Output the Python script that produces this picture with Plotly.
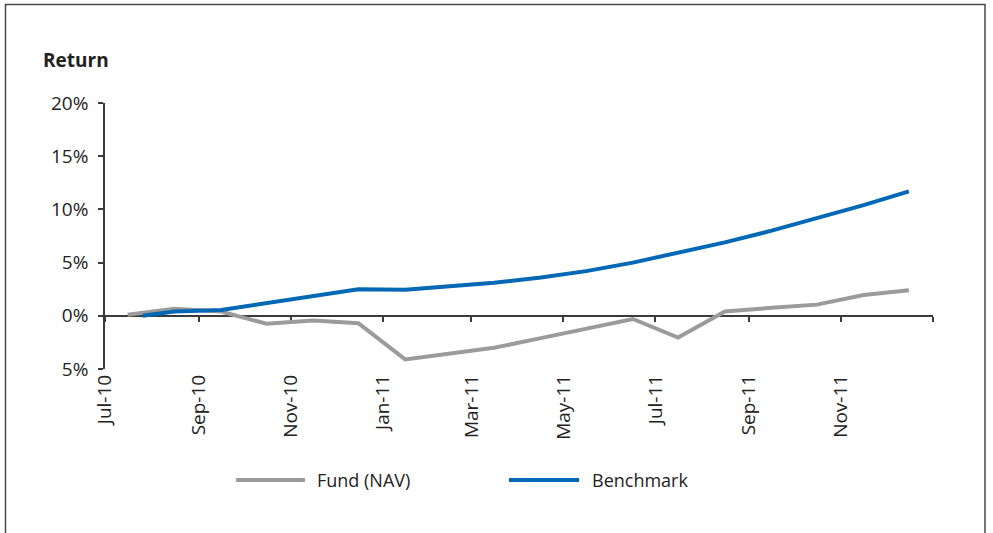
import plotly.graph_objects as go

# ---- data ----
fund_dates = ["2010-07-16", "2010-08-16", "2010-09-16", "2010-10-16", "2010-11-16", "2010-12-16",
              "2011-01-16", "2011-02-16", "2011-03-16", "2011-04-16", "2011-05-16", "2011-06-16",
              "2011-07-16", "2011-08-16", "2011-09-16", "2011-10-16", "2011-11-16", "2011-12-16"]
fund_values = [0.1, 0.65, 0.4, -0.75, -0.45, -0.7,
               -4.1, -3.55, -3.0, -2.1, -1.2, -0.3,
               -2.05, 0.4, 0.75, 1.05, 1.95, 2.4]

bench_dates = ["2010-07-26", "2010-08-16", "2010-09-16", "2010-10-16", "2010-11-16", "2010-12-16",
               "2011-01-16", "2011-02-16", "2011-03-16", "2011-04-16", "2011-05-16", "2011-06-16",
               "2011-07-16", "2011-08-16", "2011-09-16", "2011-10-16", "2011-11-16", "2011-12-16"]
bench_values = [0.0, 0.4, 0.55, 1.2, 1.85, 2.5,
                2.45, 2.75, 3.1, 3.6, 4.2, 5.0,
                5.9, 6.9, 8.0, 9.2, 10.4, 11.7]

tick_dates = ["2010-07-01", "2010-09-01", "2010-11-01", "2011-01-01", "2011-03-01",
              "2011-05-01", "2011-07-01", "2011-09-01", "2011-11-01"]
tick_labels = ["Jul-10", "Sep-10", "Nov-10", "Jan-11", "Mar-11", "May-11", "Jul-11", "Sep-11", "Nov-11"]
axis_tick_dates = tick_dates + ["2012-01-01"]
x_range = ["2010-07-01", "2012-01-01"]

y_tick_values = [-5, 0, 5, 10, 15, 20]
y_tick_labels = ["5%", "0%", "5%", "10%", "15%", "20%"]

series_names = ["Fund (NAV)", "Benchmark"]

# ---- style ----
GREY = "#9b9b9b"
BLUE = "#0068b4"
TXT = "#222222"
AX = "#3a3a3a"
FONT = "Open Sans"

fig = go.Figure()
fig.add_trace(go.Scatter(x=fund_dates, y=fund_values, mode="lines", name=series_names[0],
                         line=dict(color=GREY, width=4), xaxis="x", yaxis="y", showlegend=False))
fig.add_trace(go.Scatter(x=bench_dates, y=bench_values, mode="lines", name=series_names[1],
                         line=dict(color=BLUE, width=4), xaxis="x2", yaxis="y", showlegend=False))

def px_to_paper_x(px):
    return (px - 105) / 828.0

def px_to_paper_y(py):
    return (369 - py) / 266.0

shapes = [
    # outer frame (left, top, right)
    dict(type="path", xref="paper", yref="paper",
         path=f"M {px_to_paper_x(5.5)} {px_to_paper_y(560)} L {px_to_paper_x(5.5)} {px_to_paper_y(4.5)} "
              f"L {px_to_paper_x(985)} {px_to_paper_y(4.5)} L {px_to_paper_x(985)} {px_to_paper_y(560)}",
         line=dict(color="#4a4a4a", width=1.5)),
    # legend lines
    dict(type="line", xref="paper", yref="paper",
         x0=px_to_paper_x(236), x1=px_to_paper_x(305), y0=px_to_paper_y(480), y1=px_to_paper_y(480),
         line=dict(color=GREY, width=4)),
    dict(type="line", xref="paper", yref="paper",
         x0=px_to_paper_x(509), x1=px_to_paper_x(579), y0=px_to_paper_y(480), y1=px_to_paper_y(480),
         line=dict(color=BLUE, width=4)),
]

annotations = [
    dict(text="<b>Return</b>", xref="paper", yref="paper", x=px_to_paper_x(41), y=px_to_paper_y(60),
         xanchor="left", yanchor="middle", showarrow=False, font=dict(family=FONT, size=19, color=TXT)),
    dict(text=series_names[0], xref="paper", yref="paper", x=px_to_paper_x(315), y=px_to_paper_y(480),
         xanchor="left", yanchor="middle", showarrow=False, font=dict(family=FONT, size=18, color=TXT)),
    dict(text=series_names[1], xref="paper", yref="paper", x=px_to_paper_x(590), y=px_to_paper_y(480),
         xanchor="left", yanchor="middle", showarrow=False, font=dict(family=FONT, size=18, color=TXT)),
]

fig.update_layout(
    width=993, height=533,
    margin=dict(l=105, r=60, t=103, b=164, pad=0),
    paper_bgcolor="white", plot_bgcolor="white",
    font=dict(family=FONT, color=TXT),
    showlegend=False,
    xaxis=dict(type="date", range=x_range, showline=False, ticks="", showgrid=False, zeroline=False,
               tickmode="array", tickvals=tick_dates, ticktext=tick_labels, tickangle=-90,
               tickfont=dict(family=FONT, size=19, color=TXT), ticklabelstandoff=1),
    xaxis2=dict(type="date", range=x_range, overlaying="x", anchor="free", position=0.2, side="bottom",
                showline=True, linecolor=AX, linewidth=1.5, ticks="outside", ticklen=5, tickwidth=1.5,
                tickcolor=AX, tickmode="array", tickvals=axis_tick_dates, showticklabels=False,
                showgrid=False, zeroline=False, layer="below traces"),
    yaxis=dict(range=[-5, 20], tickmode="array", tickvals=y_tick_values, ticktext=y_tick_labels,
               ticks="outside", ticklen=5, tickwidth=1.5, tickcolor=AX, showline=True, linecolor=AX,
               linewidth=1.5, showgrid=False, zeroline=False,
               tickfont=dict(family=FONT, size=19, color=TXT), ticklabelstandoff=6),
    shapes=shapes,
    annotations=annotations,
)

fig.write_html(
    "out.html",
    config={"displayModeBar": False},
    post_script="document.body.style.margin='0px';document.body.style.overflow='hidden';",
)
